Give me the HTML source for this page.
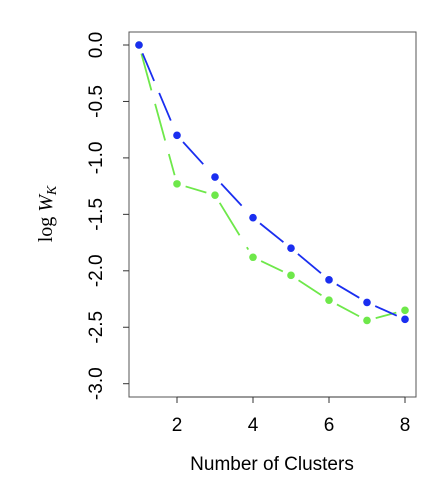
<!DOCTYPE html>
<html><head><meta charset="utf-8"><style>
body{margin:0;background:#fff;}
svg{display:block;font-family:"Liberation Sans",sans-serif;}
</style></head><body>
<svg width="442" height="488">
<g id="plot"></g>
</svg>
<script>
const clusters=[1,2,3,4,5,6,7,8];
const blueValues=[0,-0.80,-1.17,-1.53,-1.80,-2.08,-2.28,-2.43];
const greenValues=[0,-1.23,-1.33,-1.88,-2.04,-2.26,-2.44,-2.35];
const xTicks=[2,4,6,8];
const yTicks=[0,-0.5,-1,-1.5,-2,-2.5,-3];
const yTickLabels=["0.0","-0.5","-1.0","-1.5","-2.0","-2.5","-3.0"];
const NS="http://www.w3.org/2000/svg";
const g=document.getElementById('plot');
const X=v=>139+(v-1)*(405-139)/7;
const Y=v=>45+(-v)*(383.7-45)/3;
function el(t,a,p){const e=document.createElementNS(NS,t);for(const k in a)e.setAttribute(k,a[k]);(p||g).appendChild(e);return e;}
const box=el('rect',{x:129,y:32,width:287,height:365,fill:'none',stroke:'#555','stroke-width':1});

xTicks.forEach(t=>{
 const l=el('line',{x1:X(t),x2:X(t),y1:397,y2:403,stroke:'#333'});
 
 const tx=el('text',{x:X(t),y:431,'font-size':19,'text-anchor':'middle',fill:'#000'});tx.textContent=t;
 
});
const xa=el('line',{x1:X(2),x2:X(8),y1:397,y2:397,stroke:'#333'});

yTicks.forEach((t,i)=>{
 const l=el('line',{x1:123,x2:129,y1:Y(t),y2:Y(t),stroke:'#333'});
 
 const tx=el('text',{x:0,y:0,'font-size':19,'text-anchor':'middle',fill:'#000',transform:`translate(102,${Y(t)}) rotate(-90)`});tx.textContent=yTickLabels[i];
 
});
const xt=el('text',{x:272,y:470,'font-size':19,'text-anchor':'middle',fill:'#000'});xt.textContent='Number of Clusters';

const yt=el('text',{x:0,y:0,'font-size':20,'text-anchor':'middle',fill:'#000','font-family':'Liberation Serif',transform:'translate(52,214) rotate(-90)'});
yt.innerHTML='log <tspan font-style="italic">W</tspan><tspan font-style="italic" font-size="14" dy="4">K</tspan>';

function series(vals,color,dash,name){
 for(let i=0;i<vals.length-1;i++){
  const x1=X(clusters[i]),y1=Y(vals[i]),x2=X(clusters[i+1]),y2=Y(vals[i+1]);
  const d=Math.hypot(x2-x1,y2-y1),ux=(x2-x1)/d,uy=(y2-y1)/d,gap=9;
  const l=el('line',{x1:x1+ux*gap,y1:y1+uy*gap,x2:x2-ux*gap,y2:y2-uy*gap,stroke:color,'stroke-width':1.8,'stroke-dasharray':dash});
  
 }
 vals.forEach((v,i)=>{
  const c=el('circle',{cx:X(clusters[i]),cy:Y(v),r:3.8,fill:color});
  
 });
}
series(greenValues,'#6ee84a','38 14','green-series');
series(blueValues,'#1a2ef0','30 13','blue-series');
</script>
</body></html>
